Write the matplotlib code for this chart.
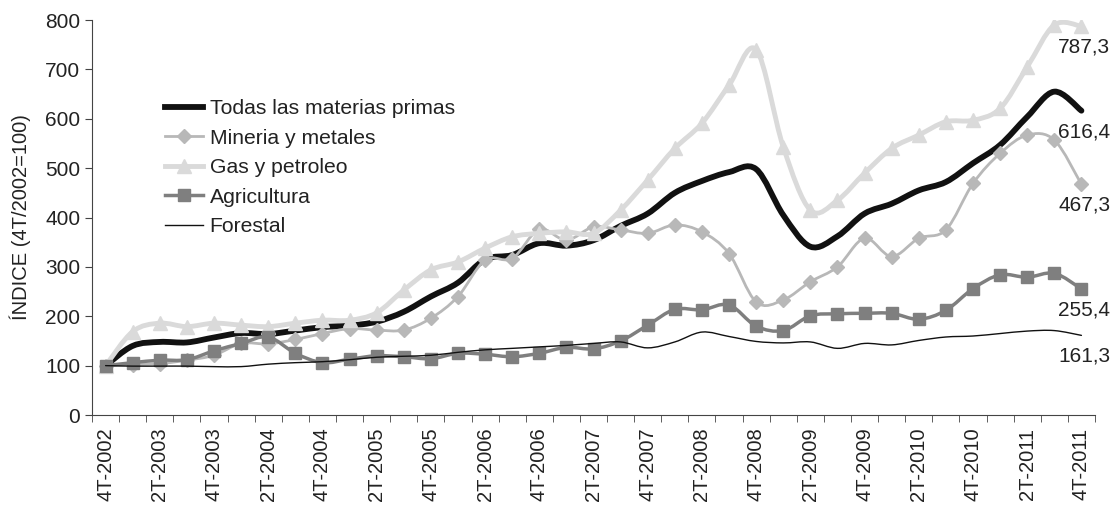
import matplotlib
matplotlib.use('Agg')
import matplotlib.pyplot as plt
from matplotlib.path import Path
from matplotlib.patches import PathPatch
from matplotlib.lines import Line2D
import numpy as np

plt.rcParams['font.family'] = ['Liberation Sans', 'DejaVu Sans']

# quarters 4T-2002 .. 4T-2011
quarters = ['4T-2002']
for yr in range(2003, 2012):
    for q in range(1, 5):
        quarters.append(f'{q}T-{yr}')

todas = [100, 140, 148, 147, 157, 166, 164, 171, 178, 181, 189, 209, 240, 268,
         315, 324, 348, 343, 354, 383, 408, 450, 474, 492, 498, 405, 341, 362,
         408, 428, 455, 472, 510, 547, 604, 655, 616.4]
mineria = [100, 102, 104, 111, 121, 145, 144, 153, 165, 175, 172, 172, 196, 240,
           314, 317, 376, 354, 381, 375, 368, 385, 371, 327, 229, 233, 270, 300,
           358, 321, 358, 375, 469, 530, 567, 557, 467.3]
gas = [100, 169, 186, 179, 186, 182, 179, 186, 192, 192, 207, 253, 294, 310,
       338, 361, 368, 371, 368, 415, 476, 540, 591, 668, 740, 543, 415, 435,
       490, 540, 567, 594, 597, 621, 705, 790, 787.3]
agricultura = [100, 106, 111, 112, 130, 145, 158, 125, 106, 113, 120, 118, 114, 125,
               123, 118, 125, 137, 134, 150, 182, 214, 213, 223, 180, 171, 201, 205,
               206, 206, 194, 212, 256, 284, 279, 287, 255.4]
forestal = [100, 99, 99, 99, 98, 98, 103, 106, 108, 112, 117, 119, 121, 127,
            132, 135, 138, 141, 145, 148, 136, 148, 168, 159, 149, 146, 148, 135,
            145, 142, 151, 158, 160, 165, 170, 171, 161.3]

names = ['Todas las materias primas', 'Mineria y metales', 'Gas y petroleo',
         'Agricultura', 'Forestal']
end_labels = ['616,4', '467,3', '787,3', '255,4', '161,3']


def smooth_path(xs, ys):
    # Catmull-Rom style bezier, similar to spreadsheet smoothed lines
    p = np.column_stack([xs, ys]).astype(float)
    n = len(p)
    verts = [p[0]]
    codes = [Path.MOVETO]
    for i in range(n - 1):
        p0 = p[i - 1] if i > 0 else p[i]
        p3 = p[i + 2] if i + 2 < n else p[i + 1]
        c1 = p[i] + (p[i + 1] - p0) / 6
        c2 = p[i + 1] - (p3 - p[i]) / 6
        verts += [c1, c2, p[i + 1]]
        codes += [Path.CURVE4] * 3
    return Path(verts, codes)


fig = plt.figure(figsize=(11.13, 5.14), dpi=100)
ax = fig.add_axes([0.0827, 0.1926, 0.9011, 0.7684])

x = np.arange(len(quarters))
styles = [
    dict(color='#111111', lw=4.2, marker=None, ms=0),
    dict(color='#b8b8b8', lw=2.0, marker='D', ms=7.5),
    dict(color='#dadada', lw=3.5, marker='^', ms=10),
    dict(color='#7f7f7f', lw=2.5, marker='s', ms=8.5),
    dict(color='#111111', lw=1.0, marker=None, ms=0),
]
series = [todas, mineria, gas, agricultura, forestal]
handles = []
for k, (vals, st) in enumerate(zip(series, styles)):
    patch = PathPatch(smooth_path(x, vals), facecolor='none', edgecolor=st['color'],
                      lw=st['lw'], capstyle='round', joinstyle='round', zorder=2 + k)
    ax.add_patch(patch)
    if st['marker']:
        ax.plot(x, vals, ls='none', marker=st['marker'], ms=st['ms'],
                color=st['color'], mec=st['color'], zorder=2.5 + k)
    handles.append(Line2D([], [], color=st['color'], lw=st['lw'],
                          marker=st['marker'], ms=st['ms']))
    ax.annotate(end_labels[k], (x[-1], vals[-1]), xytext=(2, -15),
                textcoords='offset points', ha='center', va='center',
                fontsize=15, color='#222222', annotation_clip=False)

ax.set_xlim(-0.5, len(quarters) - 0.5)
ax.set_ylim(0, 800)
ax.set_yticks(range(0, 801, 100))
ax.set_xticks(x[::2])
ax.set_xticklabels(quarters[::2], rotation=90, fontsize=14.5, color='#222222')
ax.set_xticks(np.arange(-0.5, len(quarters), 1), minor=True)
ax.tick_params(axis='x', which='major', length=0, pad=9)
ax.tick_params(axis='x', which='minor', length=5, direction='out', color='#444444')
ax.tick_params(axis='y', length=5, direction='out', labelsize=15, labelcolor='#222222',
               color='#444444')
for s in ['top', 'right']:
    ax.spines[s].set_visible(False)
for s in ['left', 'bottom']:
    ax.spines[s].set_color('#444444')
ax.set_ylabel('ÍNDICE (4T/2002=100)', fontsize=14.5, color='#222222', labelpad=10)

ax.legend(handles, names, loc='upper left', bbox_to_anchor=(0.073, 0.80),
          frameon=False, fontsize=15.2, handlelength=1.8, handletextpad=0.3,
          labelspacing=0.5, borderpad=0, borderaxespad=0, labelcolor='#222222')

fig.savefig('out.png', dpi=100)
